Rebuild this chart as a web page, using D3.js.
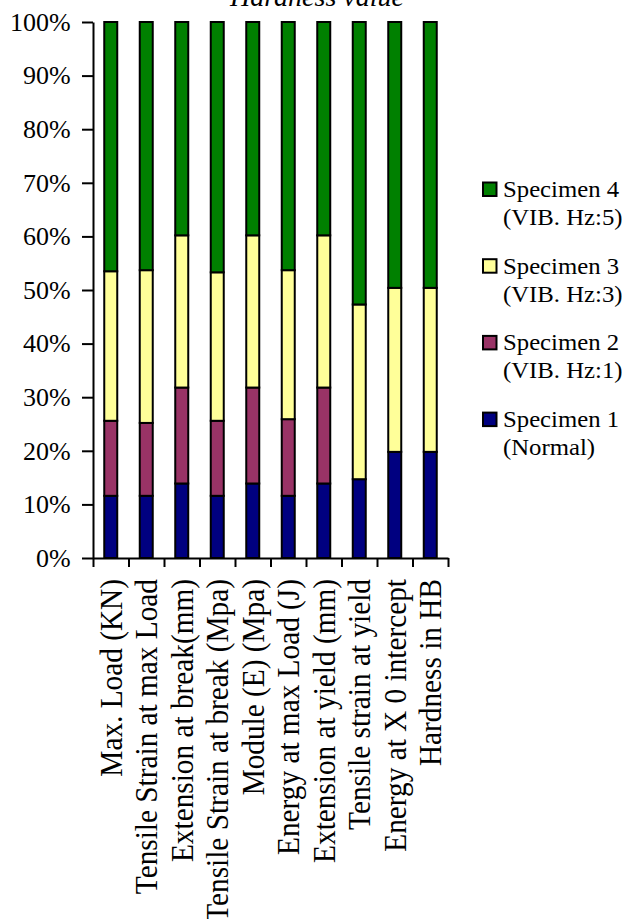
<!DOCTYPE html>
<html>
<head>
<meta charset="utf-8">
<script src="https://cdn.jsdelivr.net/npm/d3@7"></script>
<style>
  html, body { margin: 0; padding: 0; background: #fff; }
  svg { display: block; font-family: "Liberation Serif", "Times New Roman", serif; }
</style>
</head>
<body>
<svg id="chart" width="622" height="919"></svg>
<script>
// Tensile / hardness properties of four specimens, shown as 100% stacked shares
const categories = [
  "Max. Load (KN)",
  "Tensile Strain at max Load",
  "Extension at break(mm)",
  "Tensile Strain at break (Mpa)",
  "Module (E) (Mpa)",
  "Energy at max Load (J)",
  "Extension at yield (mm)",
  "Tensile strain at yield",
  "Energy at X 0 intercept",
  "Hardness in HB"
];

const seriesKeys = ["s1", "s2", "s3", "s4"];
const seriesLabels = [
  ["Specimen 1", "(Normal)"],
  ["Specimen 2", "(VIB. Hz:1)"],
  ["Specimen 3", "(VIB. Hz:3)"],
  ["Specimen 4", "(VIB. Hz:5)"]
];
const seriesColors = ["#000080", "#993366", "#FFFF99", "#008000"];

// share of each specimen per property (percent)
const specimen1 = [11.6, 11.6, 13.9, 11.6, 13.9, 11.6, 13.9, 14.7, 19.8, 19.8];
const specimen2 = [14.0, 13.6, 17.9, 14.0, 17.9, 14.3, 17.9, 0, 0, 0];
const specimen3 = [27.9, 28.5, 28.4, 27.7, 28.4, 27.8, 28.4, 32.6, 30.6, 30.6];
const specimen4 = [46.5, 46.3, 39.8, 46.7, 39.8, 46.3, 39.8, 52.7, 49.6, 49.6];

const yTickValues = [0, 0.1, 0.2, 0.3, 0.4, 0.5, 0.6, 0.7, 0.8, 0.9, 1];
const titleText = "Hardness value";

const rows = categories.map((c, i) => ({
  category: c,
  s1: specimen1[i], s2: specimen2[i], s3: specimen3[i], s4: specimen4[i]
}));

const stacked = d3.stack()
  .keys(seriesKeys)
  .offset(d3.stackOffsetExpand)(rows);

const svg = d3.select("#chart");
const plot = { left: 93, right: 448, top: 22, bottom: 558 };
const serif = "Liberation Serif, Times New Roman, serif";

const x = d3.scaleBand()
  .domain(categories)
  .range([plot.left, plot.right])
  .paddingInner(0.634)
  .paddingOuter(0.317);

const xEdge = d3.scaleLinear()
  .domain([0, categories.length])
  .range([plot.left, plot.right]);

const y = d3.scaleLinear()
  .domain([0, 1])
  .range([plot.bottom, plot.top]);

// title (partly above the frame)
svg.append("text")
  .attr("x", 317)
  .attr("y", 6)
  .attr("text-anchor", "middle")
  .attr("font-style", "italic")
  .attr("font-size", 28)
  .text(titleText);

// bars
const layers = svg.append("g")
  .selectAll("g")
  .data(stacked)
  .join("g")
  .attr("fill", (d, i) => seriesColors[i]);

layers.selectAll("rect")
  .data(d => d.filter(s => s[1] - s[0] > 0))
  .join("rect")
  .attr("x", d => x(d.data.category))
  .attr("width", x.bandwidth())
  .attr("y", d => y(d[1]))
  .attr("height", d => y(d[0]) - y(d[1]))
  .attr("stroke", "#000")
  .attr("stroke-width", 2);

// y axis
const yAxis = svg.append("g")
  .attr("transform", `translate(${plot.left},0)`)
  .call(d3.axisLeft(y)
    .tickValues(yTickValues)
    .tickFormat(d3.format(".0%"))
    .tickSize(11)
    .tickSizeOuter(0)
    .tickPadding(11.3));
yAxis.selectAll("text")
  .attr("font-size", 26)
  .attr("font-family", serif)
  .attr("fill", "#000");

// x axis: boundary ticks
svg.append("g")
  .attr("transform", `translate(0,${plot.bottom})`)
  .call(d3.axisBottom(xEdge)
    .tickValues(d3.range(categories.length + 1))
    .tickFormat("")
    .tickSize(9)
    .tickSizeOuter(0));

// x axis: category labels, rotated
const xLabels = svg.append("g")
  .attr("transform", `translate(0,${plot.bottom})`)
  .call(d3.axisBottom(x).tickSize(0));
xLabels.select(".domain").remove();
xLabels.selectAll("text")
  .attr("font-size", 29.3)
  .attr("font-family", serif)
  .attr("fill", "#000")
  .attr("text-anchor", "end")
  .attr("x", -21)
  .attr("y", 0)
  .attr("dy", "0.35em")
  .attr("transform", "rotate(-90) scale(1,1.08)");

svg.selectAll(".domain, .tick line")
  .attr("stroke", "#000")
  .attr("stroke-width", 2);

// legend, Specimen 4 on top
const legend = svg.append("g").attr("font-family", serif);
const legendOrder = [3, 2, 1, 0];
legendOrder.forEach((si, k) => {
  const base = 197 + k * 76.7;
  const g = legend.append("g");
  g.append("rect")
    .attr("x", 483)
    .attr("y", base - 14.5)
    .attr("width", 13.5)
    .attr("height", 13.5)
    .attr("fill", seriesColors[si])
    .attr("stroke", "#000")
    .attr("stroke-width", 2);
  const t = g.append("g")
    .attr("transform", `translate(503,${base}) scale(1.1,1)`);
  t.append("text")
    .attr("font-size", 22.5)
    .text(seriesLabels[si][0]);
  t.append("text")
    .attr("y", 28)
    .attr("font-size", 22.5)
    .text(seriesLabels[si][1]);
});
</script>
</body>
</html>
